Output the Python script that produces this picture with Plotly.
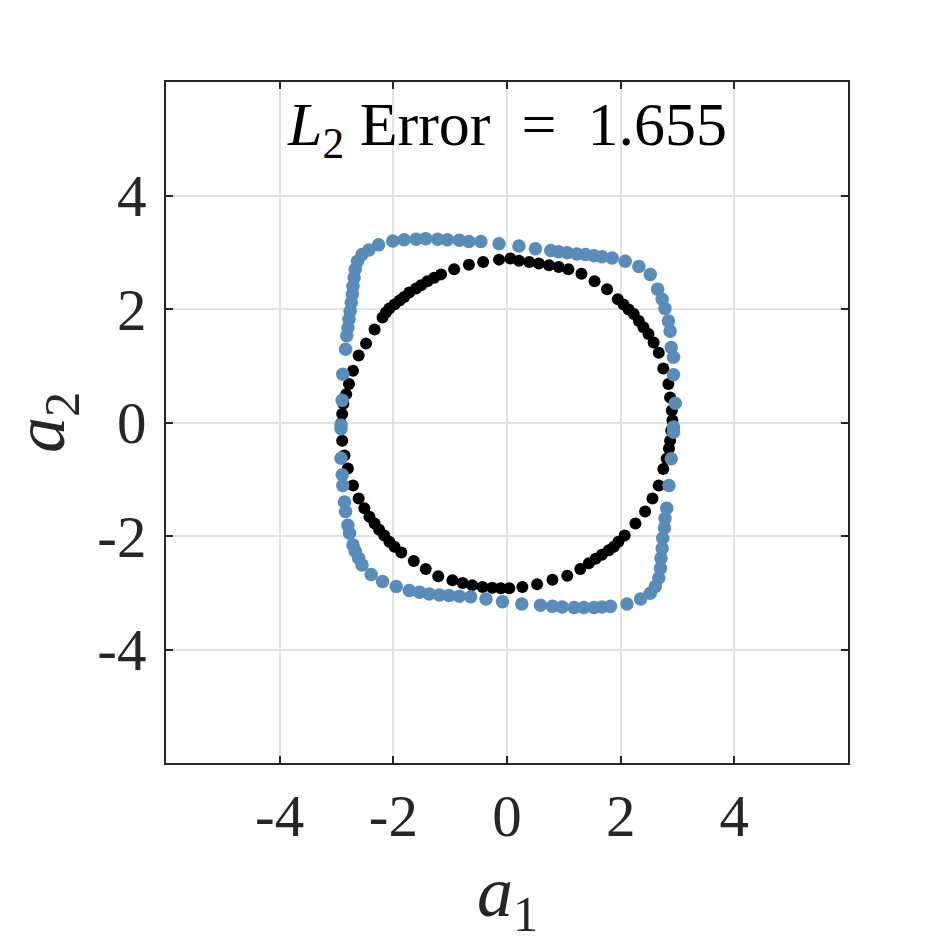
import plotly.graph_objects as go

# black points (reference circle)
black_x = [0.06, -0.14, -0.42, -0.67, -0.93, -1.16, -1.28, -1.40, -1.51, -1.60, -1.72, -1.81, -1.89,
           -1.98, -2.07, -2.13, -2.19, -2.33, -2.48, -2.61, -2.71, -2.78, -2.83, -2.88, -2.90, -2.92,
           0.21, 0.39, 0.56, 0.74, 0.91, 1.08, 1.31, 1.54, 1.76, 1.95, 2.05, 2.14, 2.23, 2.32, 2.40,
           2.49, 2.58, 2.67, 2.75, 2.84, 2.87, 2.90, 2.91,
           -2.90, -2.86, -2.80, -2.71, -2.61, -2.51, -2.42, -2.33, -2.25, -2.16, -2.07, -1.98, -1.86,
           -1.64, -1.43, -1.21, -0.96, -0.78, -0.61, -0.43, -0.26, -0.11,
           0.04, 0.27, 0.53, 0.80, 1.06, 1.29, 1.44, 1.56, 1.67, 1.79, 1.88, 1.96, 2.07, 2.26, 2.43,
           2.56, 2.67, 2.75, 2.81, 2.85, 2.87, 2.89]
black_y = [2.89, 2.87, 2.83, 2.78, 2.70, 2.61, 2.55, 2.49, 2.42, 2.36, 2.29, 2.21, 2.15,
           2.08, 2.01, 1.94, 1.85, 1.64, 1.39, 1.18, 0.91, 0.68, 0.50, 0.33, 0.15, -0.02,
           2.85, 2.83, 2.80, 2.77, 2.74, 2.70, 2.62, 2.49, 2.35, 2.17, 2.08, 1.99, 1.91, 1.79, 1.68,
           1.56, 1.41, 1.23, 0.95, 0.68, 0.44, 0.21, 0.04,
           -0.32, -0.58, -0.81, -1.11, -1.34, -1.51, -1.66, -1.78, -1.89, -1.99, -2.10, -2.19, -2.29,
           -2.44, -2.58, -2.71, -2.78, -2.83, -2.87, -2.90, -2.91, -2.92,
           -2.92, -2.90, -2.85, -2.77, -2.70, -2.58, -2.48, -2.40, -2.33, -2.25, -2.19, -2.10, -1.99, -1.78, -1.57,
           -1.34, -1.11, -0.82, -0.64, -0.46, -0.32, -0.14]

# blue points (prediction)
blue_x = [-2.92, -2.90, -2.89, -2.84, -2.82, -2.80, -2.78, -2.76, -2.74, -2.72, -2.71, -2.69, -2.67,
          -2.63, -2.55, -2.43, -2.26, -2.01, -1.81, -1.60, -1.43, -1.22, -1.05, -0.84, -0.67, -0.46, -0.14,
          0.21, 0.50, 0.77, 0.91, 1.06, 1.23, 1.38, 1.53, 1.67, 1.85, 2.08, 2.32, 2.52, 2.65, 2.73,
          2.78, 2.84, 2.87, 2.89, 2.93, 2.93, 2.96, 2.93,
          -2.92, -2.92, -2.90, -2.89, -2.86, -2.84, -2.80, -2.77, -2.71, -2.67, -2.61, -2.55, -2.39,
          -2.19, -1.95, -1.72, -1.54, -1.37, -1.19, -1.02, -0.84, -0.64, -0.37, -0.08,
          0.26, 0.59, 0.80, 0.97, 1.18, 1.35, 1.53, 1.67, 1.82, 2.11, 2.35, 2.52, 2.61, 2.67, 2.70,
          2.71, 2.73, 2.74, 2.77, 2.78, 2.81, 2.85, 2.89, 2.93]
blue_y = [-0.05, 0.39, 0.85, 1.29, 1.53, 1.67, 1.82, 1.96, 2.11, 2.26, 2.40, 2.55, 2.70,
          2.84, 2.96, 3.04, 3.13, 3.20, 3.22, 3.23, 3.24, 3.23, 3.22, 3.21, 3.19, 3.19, 3.15,
          3.11, 3.06, 3.03, 3.01, 2.99, 2.97, 2.96, 2.94, 2.92, 2.90, 2.84, 2.75, 2.61, 2.35, 2.17,
          2.01, 1.79, 1.61, 1.32, 1.15, 0.84, 0.34, -0.08,
          -0.11, -0.63, -0.92, -1.11, -1.40, -1.57, -1.81, -1.95, -2.16, -2.27, -2.39, -2.51, -2.68,
          -2.80, -2.89, -2.96, -2.99, -3.02, -3.04, -3.05, -3.06, -3.07, -3.11, -3.16,
          -3.20, -3.22, -3.24, -3.25, -3.26, -3.26, -3.26, -3.25, -3.24, -3.20, -3.11, -3.01, -2.89, -2.74, -2.57,
          -2.39, -2.22, -2.04, -1.86, -1.69, -1.51, -1.11, -0.64, -0.17]

tick_vals = [-4, -2, 0, 2, 4]
tick_text = ["-4", "-2", "0", "2", "4"]
error_value = 1.655

FONT = "Liberation Serif"
TEXT_GRAY = "#262626"

fig = go.Figure()

fig.add_trace(go.Scatter(x=black_x, y=black_y, mode="markers",
                         marker=dict(color="black", size=12), showlegend=False))
fig.add_trace(go.Scatter(x=blue_x, y=blue_y, mode="markers",
                         marker=dict(color="#5A8CB9", size=13.5), showlegend=False))

axis_style = dict(
    range=[-6, 6], tickvals=tick_vals, ticktext=tick_text, automargin=False,
    showgrid=True, gridcolor="#E2E2E2", gridwidth=1.6, zeroline=False,
    showline=True, linecolor=TEXT_GRAY, linewidth=1.5, mirror="ticks",
    ticks="inside", ticklen=7, tickwidth=1.5, tickcolor=TEXT_GRAY,
    tickfont=dict(family=FONT, size=59, color=TEXT_GRAY),
)

fig.update_xaxes(**axis_style, ticklabelstandoff=0)
fig.update_yaxes(**axis_style, ticklabelstandoff=6)

# axis labels
fig.add_annotation(x=0.5, y=-0.197, xref="paper", yref="paper", xanchor="center", yanchor="middle",
                   showarrow=False, text="<i>a</i><sub>1</sub>",
                   font=dict(family=FONT, size=72, color=TEXT_GRAY))
fig.add_annotation(x=-0.178, y=0.5, xref="paper", yref="paper", xanchor="center", yanchor="middle",
                   showarrow=False, textangle=-90, text="<i>a</i><sub>2</sub>",
                   font=dict(family=FONT, size=72, color=TEXT_GRAY))

# title inside the axes
fig.add_annotation(x=0.5, y=0.932, xref="paper", yref="paper", xanchor="center", yanchor="middle",
                   showarrow=False,
                   text=f"<i>L</i><sub>2</sub>&nbsp;Error&nbsp;&nbsp;=&nbsp;&nbsp;{error_value}",
                   font=dict(family=FONT, size=62, color="black"))

# the page body adds an 8px offset, so margins are shifted to keep the axes box in place
fig.update_layout(
    width=938, height=938,
    paper_bgcolor="white", plot_bgcolor="white",
    margin=dict(l=158, r=98, t=74, b=183),
)

fig.write_html("out.html")
